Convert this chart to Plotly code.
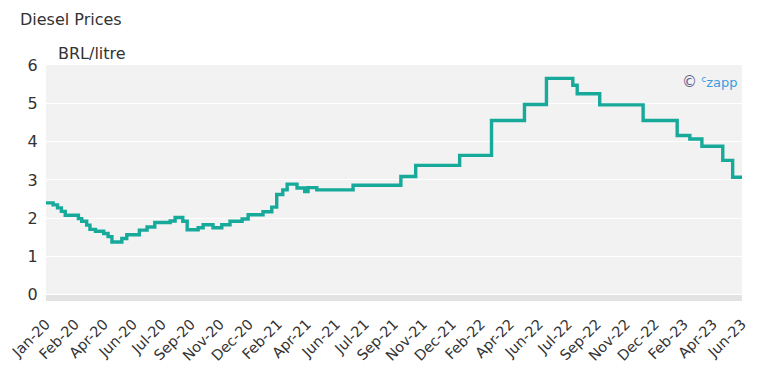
import numpy as np
import pandas as pd
import plotly.graph_objects as go

# Price change dates and diesel price (BRL/litre), step series
change_dates = [
    "2020-01-06", "2020-01-19", "2020-01-27", "2020-02-03", "2020-02-10",
    "2020-03-05", "2020-03-11", "2020-03-20", "2020-03-26", "2020-04-05",
    "2020-04-20", "2020-04-28", "2020-05-05", "2020-05-23", "2020-06-01",
    "2020-06-24", "2020-07-08", "2020-07-22", "2020-08-19", "2020-08-28",
    "2020-09-11", "2020-09-19", "2020-10-09", "2020-10-18", "2020-11-05",
    "2020-11-21", "2020-12-06", "2020-12-28", "2021-01-08", "2021-02-04",
    "2021-02-20", "2021-03-01", "2021-03-12", "2021-03-20", "2021-04-07",
    "2021-04-21", "2021-04-27", "2021-05-13", "2021-07-18", "2021-10-13",
    "2021-11-09", "2022-01-28", "2022-03-27", "2022-05-26", "2022-07-05",
    "2022-08-22", "2022-08-30", "2022-10-10", "2022-12-28", "2023-02-28",
    "2023-03-23", "2023-04-14", "2023-05-22", "2023-06-09", "2023-06-26",
]
prices = [
    2.40, 2.35, 2.27, 2.18, 2.08,
    1.99, 1.92, 1.82, 1.71, 1.66,
    1.60, 1.52, 1.38, 1.47, 1.57,
    1.69, 1.77, 1.89, 1.93, 2.02,
    1.92, 1.70, 1.75, 1.83, 1.75,
    1.83, 1.92, 1.98, 2.09, 2.17,
    2.29, 2.62, 2.74, 2.89, 2.79,
    2.70, 2.80, 2.74, 2.86, 3.09,
    3.38, 3.64, 4.55, 4.97, 5.65,
    5.47, 5.25, 4.96, 4.55, 4.16,
    4.07, 3.88, 3.51, 3.07, 3.07,
]

tick_labels = [
    "Jan-20", "Feb-20", "Apr-20", "Jun-20", "Jul-20", "Sep-20", "Nov-20",
    "Dec-20", "Feb-21", "Apr-21", "Jun-21", "Jul-21", "Sep-21", "Nov-21",
    "Dec-21", "Feb-22", "Apr-22", "Jun-22", "Jul-22", "Sep-22", "Nov-22",
    "Dec-22", "Feb-23", "Apr-23", "Jun-23",
]

x = pd.to_datetime(change_dates)
start, end = x[0], x[-1]
tickvals = pd.to_datetime(np.linspace(start.value, end.value, len(tick_labels)))

LINE = "#17aa9b"
TXT = "#333333"
FONT = "DejaVu Sans"

fig = go.Figure()
fig.add_trace(go.Scatter(
    x=x, y=prices, mode="lines", line=dict(color=LINE, width=3.4, shape="hv"),
    hoverinfo="x+y", showlegend=False,
))

fig.add_shape(type="rect", xref="x domain", yref="y", x0=0, x1=1, y0=-0.16, y1=0,
              fillcolor="#e3e3e3", line=dict(width=0), layer="below")

fig.update_layout(
    width=765, height=365,
    margin=dict(l=38, r=31, t=57, b=72, autoexpand=False),
    paper_bgcolor="white", plot_bgcolor="#f2f2f2",
    font=dict(family=FONT, color=TXT, size=13),
    title=dict(text="Diesel Prices", x=0, xref="container", xanchor="left",
               y=1, yref="container", yanchor="top", pad=dict(t=6, l=12),
               font=dict(size=16, color=TXT, family=FONT)),
    xaxis=dict(range=[start, end], tickvals=tickvals, ticktext=tick_labels,
               tickangle=-45, showgrid=False, zeroline=False, showline=False,
               ticks="outside", ticklen=8, tickcolor="rgba(0,0,0,0)",
               automargin=False, tickfont=dict(size=14.5, color=TXT)),
    yaxis=dict(range=[-0.16, 6], tickvals=[0, 1, 2, 3, 4, 5, 6],
               showgrid=True, gridcolor="white", gridwidth=1, zeroline=False,
               showline=False, ticks="outside", ticklen=4, tickcolor="rgba(0,0,0,0)",
               automargin=False, tickfont=dict(size=16, color=TXT)),
    annotations=[
        dict(text="BRL/litre", xref="paper", yref="paper", x=0.015, y=1.0,
             xanchor="left", yanchor="bottom", yshift=0, showarrow=False,
             font=dict(size=16, color=TXT, family=FONT)),
        dict(text='<span style="color:#5b5b8f;font-size:15px">©</span> <span style="color:#3b9be0"><sup>c</sup>zapp</span>',
             xref="paper", yref="paper", x=0.995, y=0.93, xanchor="right", yanchor="middle",
             showarrow=False, font=dict(size=13, family=FONT)),
    ],
)

fig.write_html("out.html")
